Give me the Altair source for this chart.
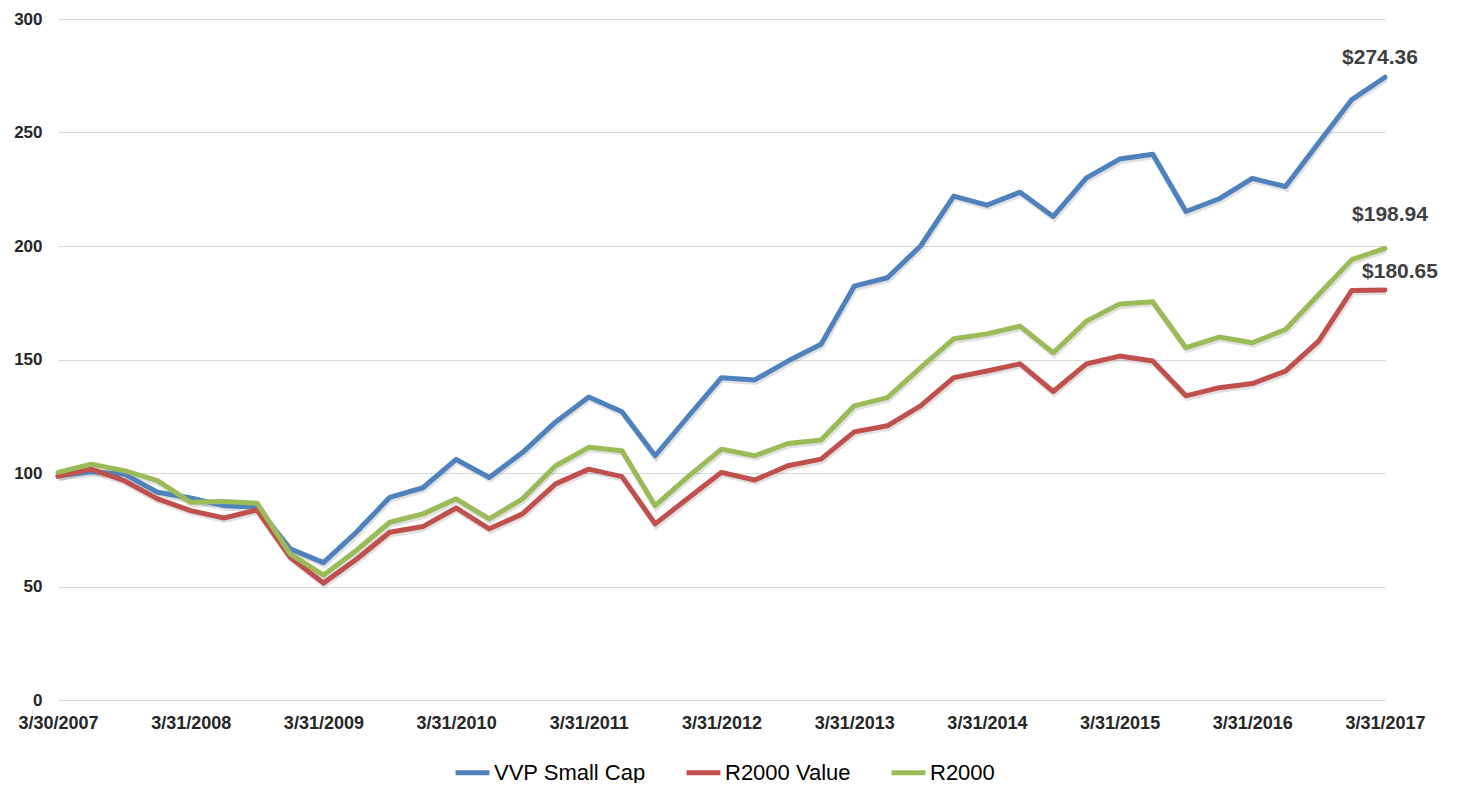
import altair as alt
import pandas as pd

quarters = list(range(41))
tick_labels = ["3/30/2007", "3/31/2008", "3/31/2009", "3/31/2010", "3/31/2011", "3/31/2012",
               "3/31/2013", "3/31/2014", "3/31/2015", "3/31/2016", "3/31/2017"]
series_names = ["VVP Small Cap", "R2000 Value", "R2000"]
colors = ["#4F81BD", "#C0504D", "#9BBB59"]

vvp = [98.8, 100.5, 99.5, 91.5, 89, 85.6, 85, 66.6, 60.5, 74, 89.3, 93.5, 106, 98, 109, 122.5,
       133.5, 127, 107.6, 125, 142, 141, 149.3, 156.7, 182.3, 186, 200, 222, 218, 223.7, 213,
       230, 238.3, 240.4, 215.2, 220.8, 229.8, 226.2, 245.5, 264.5, 274.36]
r2000_value = [98.5, 101.7, 96.6, 88.6, 83.4, 80.2, 83.7, 62.9, 51.5, 62, 73.9, 76.4, 84.6, 75.4,
               82, 95.2, 101.7, 98.4, 77.6, 89, 100.3, 96.9, 103.2, 106.1, 118.1, 120.8, 129.6,
               142, 144.9, 148.1, 135.9, 148.1, 151.5, 149.3, 134, 137.6, 139.4, 144.9, 158.1,
               180.4, 180.65]
r2000 = [100.3, 103.9, 101, 96.6, 87.1, 87.4, 86.7, 64.4, 55, 66, 78.3, 82, 88.6, 79.8, 88.6,
         103.2, 111.3, 109.8, 85.6, 98.5, 110.5, 107.6, 113, 114.5, 129.6, 133.2, 146.4, 159.1,
         161.3, 164.7, 153, 166.9, 174.5, 175.4, 155.2, 159.9, 157.4, 163.2, 178.6, 194, 198.94]

rows = []
for name, vals in zip(series_names, [vvp, r2000_value, r2000]):
    for q, v in zip(quarters, vals):
        rows.append({"q": q, "value": v, "series": name})
df = pd.DataFrame(rows)

font = "Liberation Sans, Arial, sans-serif"
label_expr = "[" + ",".join(f"'{t}'" for t in tick_labels) + "][round(datum.value/4)]"

x = alt.X("q:Q", scale=alt.Scale(domain=[0, 40], nice=False, zero=False),
          axis=alt.Axis(values=list(range(0, 41, 4)), labelExpr=label_expr, grid=False,
                        domain=False, ticks=False, labelPadding=14, labelFont=font,
                        labelFontSize=18, labelFontWeight="bold", labelColor="#262626",
                        title=None, labelFlush=False))
y = alt.Y("value:Q", scale=alt.Scale(domain=[0, 300], nice=False),
          axis=alt.Axis(values=[0, 50, 100, 150, 200, 250, 300], grid=True, gridColor="#d9d9d9",
                        gridWidth=1.2, domain=False, ticks=False, labelPadding=16, labelFont=font,
                        labelFontSize=17, labelFontWeight="bold", labelColor="#262626",
                        title=None))
color = alt.Color("series:N", scale=alt.Scale(domain=series_names, range=colors),
                  legend=alt.Legend(title=None, orient="none", legendX=395, legendY=734,
                                    direction="horizontal", symbolType="stroke",
                                    symbolStrokeWidth=5, symbolSize=1150, labelFont=font,
                                    labelFontSize=22, labelColor="#000000", columnPadding=30,
                                    labelOffset=2))

base = alt.Chart(df)

shadow = base.mark_line(color="#000000", opacity=0.12, strokeWidth=6, xOffset=1, yOffset=2).encode(
    x=x, y=y, detail="series:N")

layers = [shadow]
for name in series_names:
    layers.append(base.transform_filter(alt.datum.series == name)
                  .mark_line(strokeWidth=5, strokeJoin="round", strokeCap="round")
                  .encode(x=x, y=y, color=color))

offsets = {"VVP Small Cap": (-5, -19), "R2000 Value": (15, -18), "R2000": (5, -33)}
for name in series_names:
    dx, dy = offsets[name]
    layers.append(base.transform_filter((alt.datum.series == name) & (alt.datum.q == 40))
                  .mark_text(font=font, fontSize=21, fontWeight="bold", color="#404040",
                             dx=dx, dy=dy, baseline="middle", align="center")
                  .encode(x=x, y=y, text=alt.Text("value:Q", format="$,.2f")))

chart = alt.layer(*layers).properties(
    width=1327, height=681,
    autosize=alt.AutoSizeParams(type="none"),
    padding={"left": 50, "top": 11, "right": 60, "bottom": 83},
    background="white",
).configure_view(stroke=None)

chart.save("out.html", embed_options={"renderer": "svg", "actions": False})
